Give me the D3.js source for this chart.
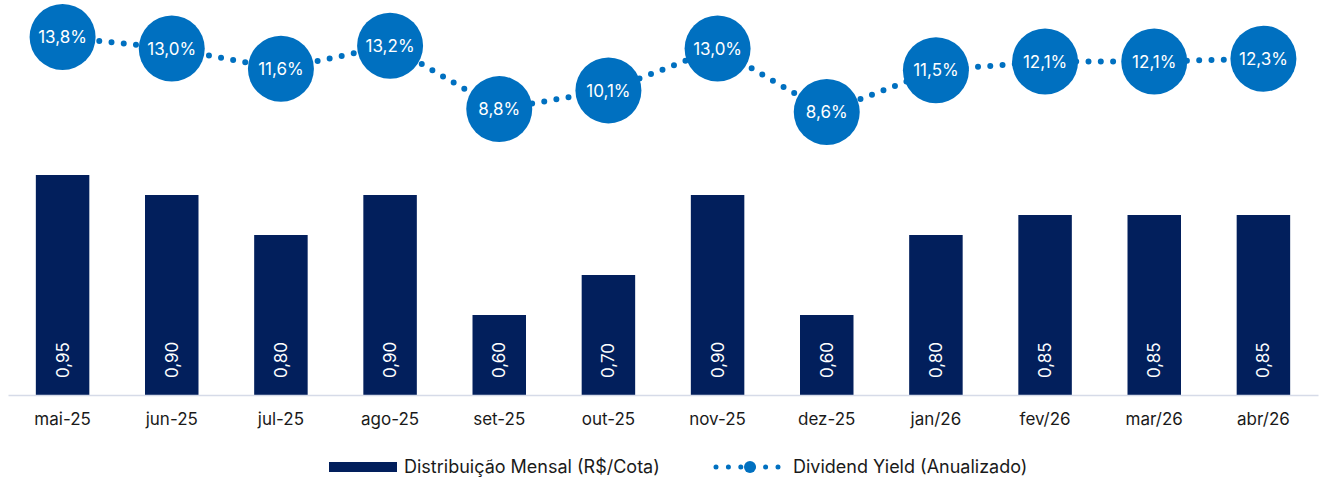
<!DOCTYPE html>
<html><head><meta charset="utf-8">
<script src="https://cdn.jsdelivr.net/npm/d3@7"></script>
<style>
html,body{margin:0;padding:0;background:#fff;}
text{font-family:Inter, "Noto Sans", sans-serif;}
</style></head>
<body><svg id="c" width="1319" height="479"></svg>
<script>
const categories = ["mai-25","jun-25","jul-25","ago-25","set-25","out-25","nov-25","dez-25","jan/26","fev/26","mar/26","abr/26"];
const distribuicao = [0.95,0.90,0.80,0.90,0.60,0.70,0.90,0.60,0.80,0.85,0.85,0.85];
const dividendYield = [13.8,13.0,11.6,13.2,8.8,10.1,13.0,8.6,11.5,12.1,12.1,12.3];
const legendLabels = ["Distribuição Mensal (R$/Cota)","Dividend Yield (Anualizado)"];

const svg = d3.select("#c");
const barColor = "#021f5c", dotColor = "#0070c0";
const x = d3.scaleBand().domain(categories).range([8, 1318]).paddingInner(0.51).paddingOuter(0.255);
const y = d3.scaleLinear().domain([0.4, 1.0]).range([395, 155]);
const y2 = d3.scaleLinear().domain([6, 16]).range([149.5, 5.3]);
const fmt2 = v => d3.format(".2f")(v).replace(".", ",");
const fmtPct = v => d3.format(".1f")(v).replace(".", ",") + "%";
const cx = d => x(d) + x.bandwidth()/2;

// bars
svg.append("g").selectAll("rect").data(categories).join("rect")
  .attr("x", d => x(d)).attr("width", x.bandwidth())
  .attr("y", (d,i) => y(distribuicao[i])).attr("height", (d,i) => y(0.4) - y(distribuicao[i]))
  .attr("fill", barColor);

// bar labels
svg.append("g").selectAll("text").data(categories).join("text")
  .attr("transform", d => `translate(${cx(d)+6},378) rotate(-90)`)
  .attr("fill", "#fff").attr("font-size", 17)
  .text((d,i) => fmt2(distribuicao[i]));

// axis
const ax = svg.append("g").attr("transform", "translate(0,395)")
  .call(d3.axisBottom(x).tickSize(0).tickPadding(18));
ax.select(".domain").attr("stroke", "#d6dbe8").attr("stroke-width", 1.5);
ax.selectAll("text").attr("font-size", 17).attr("fill", "#1a1a1a").style("font-family", "Inter, sans-serif");

// dotted line
const line = d3.line().x(d => cx(d)).y((d,i) => y2(dividendYield[i]));
svg.append("path").datum(categories).attr("d", line)
  .attr("fill", "none").attr("stroke", dotColor).attr("stroke-width", 6)
  .attr("stroke-linecap", "round").attr("stroke-dasharray", "0,12.3");

// circles
const g = svg.append("g").selectAll("g").data(categories).join("g")
  .attr("transform", (d,i) => `translate(${cx(d)},${y2(dividendYield[i])})`);
g.append("circle").attr("r", 33).attr("fill", dotColor);
g.append("text").attr("text-anchor", "middle").attr("dy", "0.36em")
  .attr("fill", "#fff").attr("font-size", 17).text((d,i) => fmtPct(dividendYield[i]));

// legend
const lg = svg.append("g");
lg.append("rect").attr("x", 329).attr("y", 462).attr("width", 68).attr("height", 10).attr("fill", barColor);
lg.append("text").attr("x", 404).attr("y", 467).attr("dy", "0.36em").attr("font-size", 18).attr("fill", "#1a1a1a").text(legendLabels[0]);
lg.append("line").attr("x1", 716).attr("x2", 778).attr("y1", 467).attr("y2", 467)
  .attr("stroke", dotColor).attr("stroke-width", 5).attr("stroke-linecap", "round").attr("stroke-dasharray", "0,12.4");
lg.append("circle").attr("cx", 750).attr("cy", 467).attr("r", 6).attr("fill", dotColor);
lg.append("text").attr("x", 793).attr("y", 467).attr("dy", "0.36em").attr("font-size", 18).attr("fill", "#1a1a1a").text(legendLabels[1]);
</script></body></html>
